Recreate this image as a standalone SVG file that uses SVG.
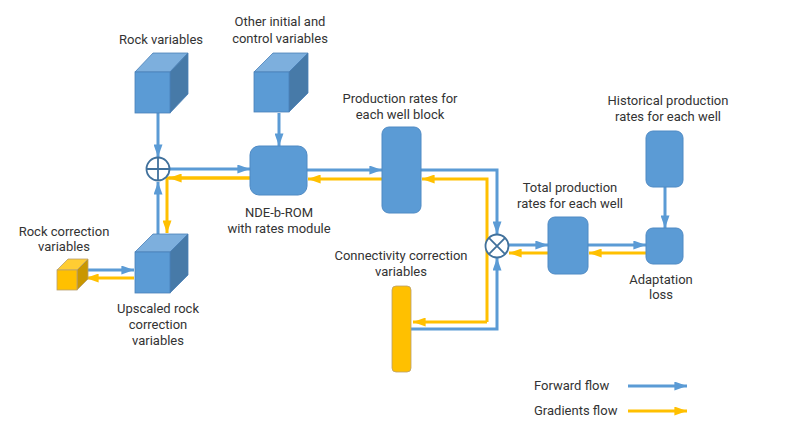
<svg xmlns="http://www.w3.org/2000/svg" width="789" height="442" viewBox="0 0 789 442">
<style>
text{font-family:Roboto,"Liberation Sans",sans-serif;font-size:13px;fill:#333;text-anchor:middle}
.box{fill:#5B9BD5;stroke:#4F8AC4;stroke-width:1}
.front{fill:#5B9BD5;stroke:#4A80B8;stroke-width:0.8}
.top{fill:#7DAFDD;stroke:#4A80B8;stroke-width:0.8}
.side{fill:#477AA8;stroke:#4A80B8;stroke-width:0.8}
.yfront{fill:#FFC000;stroke:#B8A070;stroke-width:0.8}
.ytop{fill:#FFCD33;stroke:#B8A070;stroke-width:0.8}
.yside{fill:#C99700;stroke:#B8A070;stroke-width:0.8}
.f{fill:none;stroke:#5B9BD5;stroke-width:3}
.g{fill:none;stroke:#FFC000;stroke-width:3}
.op{fill:#fff;stroke:#41719C;stroke-width:1.8}
</style>
<defs>
<marker id="ab" markerWidth="4.2" markerHeight="3" refX="4.2" refY="1.5" orient="auto" markerUnits="strokeWidth"><path d="M0,0 L4.2,1.5 L0,3 z" fill="#5B9BD5"/></marker>
<marker id="ay" markerWidth="4.2" markerHeight="3" refX="4.2" refY="1.5" orient="auto" markerUnits="strokeWidth"><path d="M0,0 L4.2,1.5 L0,3 z" fill="#FFC000"/></marker>
</defs>

<g id="connectors">
<path class="f" d="M158,113 V157" marker-end="url(#ab)"/>
<path class="f" d="M158,250 V182" marker-end="url(#ab)"/>
<path class="f" d="M170,169 H250" marker-end="url(#ab)"/>
<path class="g" d="M250,178 H167 V233" marker-end="url(#ay)"/>
<path class="g" d="M250,178 H169" marker-end="url(#ay)"/>
<path class="f" d="M279,113 V146" marker-end="url(#ab)"/>
<path class="f" d="M88,270 H134" marker-end="url(#ab)"/>
<path class="g" d="M134,278 H86" marker-end="url(#ay)"/>
<path class="f" d="M307,170 H382" marker-end="url(#ab)"/>
<path class="g" d="M382,179 H308" marker-end="url(#ay)"/>
<path class="f" d="M421,170 H497 V234" marker-end="url(#ab)"/>
<path class="g" d="M487,322 V179 H422" marker-end="url(#ay)"/>
<path class="g" d="M487,322 H413" marker-end="url(#ay)"/>
<path class="f" d="M411,329 H497 V258" marker-end="url(#ab)"/>
<path class="f" d="M508,245 H548" marker-end="url(#ab)"/>
<path class="g" d="M548,253 H509" marker-end="url(#ay)"/>
<path class="f" d="M588,245 H646" marker-end="url(#ab)"/>
<path class="g" d="M646,253 H589" marker-end="url(#ay)"/>
<path class="f" d="M665,187 V228" marker-end="url(#ab)"/>
</g>

<g id="rock-variables">
<text x="161" y="44">Rock variables</text>
<polygon class="top" points="135,72 153,53 188,53 170,72"/>
<polygon class="side" points="170,72 188,53 188,94 170,113"/>
<rect class="front" x="135" y="72" width="35" height="41"/>
</g>

<g id="other-variables">
<text x="280" y="26">Other initial and</text>
<text x="280" y="43">control variables</text>
<polygon class="top" points="254,72 273,53 308,53 289,72"/>
<polygon class="side" points="289,72 308,53 308,93 289,112"/>
<rect class="front" x="254" y="72" width="35" height="40"/>
</g>

<g id="plus">
<circle class="op" cx="158" cy="169" r="11.5"/>
<path d="M146.5,169 H169.5 M158,157.5 V180.5" stroke="#41719C" stroke-width="1.8"/>
</g>

<g id="upscaled">
<polygon class="top" points="135,252 153,234 188,234 170,252"/>
<polygon class="side" points="170,252 188,234 188,275 170,293"/>
<rect class="front" x="135" y="252" width="35" height="41"/>
<text x="158" y="313">Upscaled rock</text>
<text x="158" y="329">correction</text>
<text x="158" y="345">variables</text>
</g>

<g id="rock-correction">
<text x="64" y="236">Rock correction</text>
<text x="64" y="251">variables</text>
<polygon class="ytop" points="57,270 68,259 88,259 77,270"/>
<polygon class="yside" points="77,270 88,259 88,279 77,290"/>
<rect class="yfront" x="57" y="270" width="20" height="20"/>
</g>

<g id="nde">
<rect class="box" x="250" y="146" width="57" height="49" rx="9"/>
<text x="279" y="217">NDE-b-ROM</text>
<text x="279" y="233">with rates module</text>
</g>

<g id="prod-block">
<text x="400" y="103">Production rates for</text>
<text x="400" y="119">each well block</text>
<rect class="box" x="382" y="127" width="39" height="86" rx="7"/>
</g>

<g id="cross">
<circle class="op" cx="497" cy="246" r="11.5"/>
<path d="M488.9,237.9 L505.1,254.1 M505.1,237.9 L488.9,254.1" stroke="#41719C" stroke-width="1.8"/>
</g>

<g id="connectivity">
<text x="401" y="260">Connectivity correction</text>
<text x="401" y="276">variables</text>
<rect class="yfront" x="392" y="286" width="19" height="86" rx="4"/>
</g>

<g id="total">
<text x="570" y="192">Total production</text>
<text x="570" y="208">rates for each well</text>
<rect class="box" x="548" y="217" width="40" height="57" rx="7"/>
</g>

<g id="historical">
<text x="668" y="105">Historical production</text>
<text x="668" y="121">rates for each well</text>
<rect class="box" x="646" y="131" width="37" height="56" rx="7"/>
</g>

<g id="adaptation">
<rect class="box" x="646" y="228" width="37" height="36" rx="7"/>
<text x="661" y="284">Adaptation</text>
<text x="661" y="299">loss</text>
</g>

<g id="legend">
<text x="534" y="390" style="text-anchor:start">Forward flow</text>
<path class="f" d="M628,386 H687" marker-end="url(#ab)"/>
<text x="534" y="415" style="text-anchor:start">Gradients flow</text>
<path class="g" d="M628,411 H687" marker-end="url(#ay)"/>
</g>
</svg>
